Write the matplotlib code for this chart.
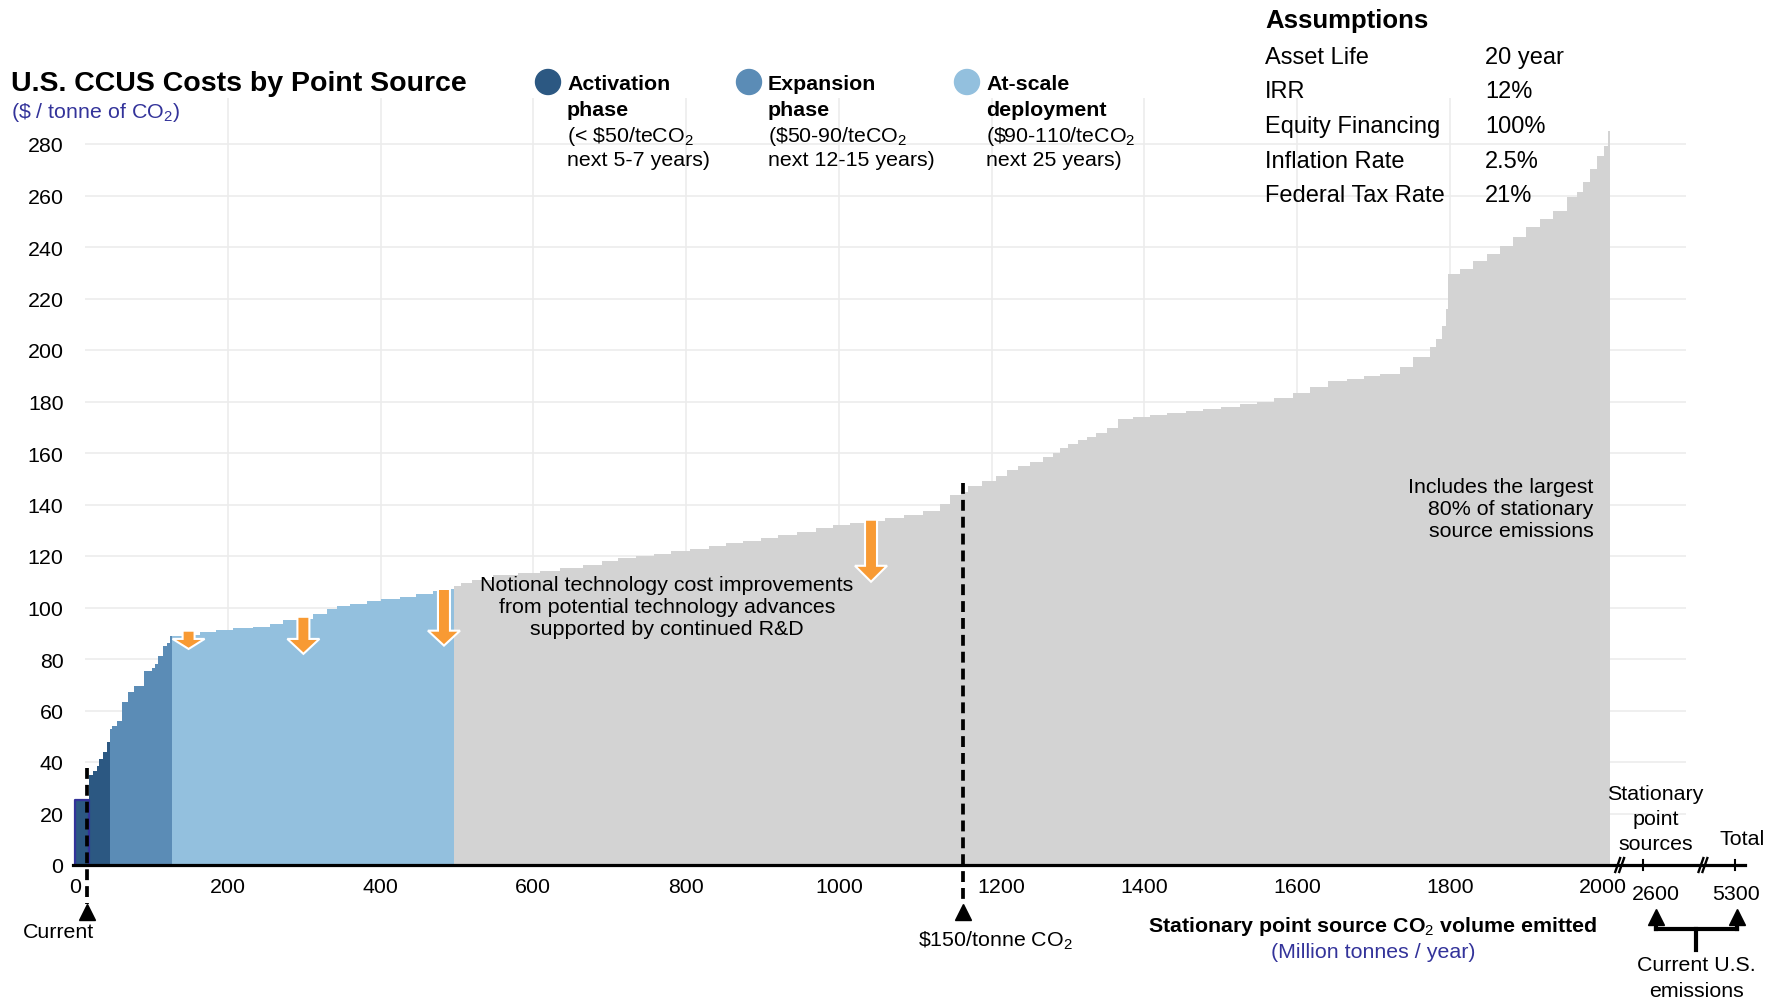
import matplotlib
matplotlib.use("Agg")
import matplotlib.pyplot as plt
from matplotlib.transforms import ScaledTranslation

plt.rcParams['font.family'] = ['Liberation Sans', 'DejaVu Sans']
plt.rcParams['mathtext.fontset'] = 'custom'
plt.rcParams['mathtext.rm'] = 'Liberation Sans'
plt.rcParams['mathtext.it'] = 'Liberation Sans:italic'
plt.rcParams['mathtext.bf'] = 'Liberation Sans:bold'

# Cost curve: cumulative volume where each source starts (Mt/yr) and its cost ($/t)
activation_start = [0, 18.8, 24, 28.4, 31.4, 37, 42.3]
activation_cost = [25.4, 35, 36.5, 38.5, 41, 44, 47.8]

expansion_start = [45.8, 48, 55.4, 62, 69.8, 77.7, 90.3, 100.3, 104.7, 109, 115.6, 120, 124.3]
expansion_cost = [52.8, 54, 56, 63.3, 67.3, 69.6, 75.5, 76.5, 78, 81.3, 85, 86.2, 88.9]

atscale_start = [126.5, 140, 163.6, 185, 207, 233, 255, 272.6, 290, 312, 330, 342.5,
                 360, 381.8, 400, 425, 447, 469, 485]
atscale_cost = [89, 89.3, 90.4, 91.3, 92, 92.6, 93.5, 95.2, 95.5, 97.4, 99.4, 100.7,
                101.5, 102.5, 103.3, 104, 105.2, 106.5, 107.2]

rest_start = [496, 505, 520, 547, 580, 608.6, 635, 664.7, 690, 711.4, 735, 758, 780, 805,
              830, 851.6, 875, 898, 920, 945, 970, 991.8, 1015, 1038.5, 1060, 1085, 1110,
              1132, 1146, 1160, 1169, 1187, 1206, 1220, 1234, 1250, 1267, 1280, 1290, 1300,
              1313, 1325, 1337, 1351, 1365, 1385, 1407, 1430, 1454, 1477, 1500, 1525, 1547,
              1570, 1594, 1617, 1640, 1665, 1687, 1708, 1734, 1752, 1774, 1782, 1789, 1795,
              1797, 1813, 1830, 1848, 1865, 1883, 1900, 1918, 1935, 1953, 1966, 1974, 1983,
              1992, 2001, 2007]
rest_cost = [108.4, 109.7, 110.8, 112.5, 113.5, 114.2, 115.5, 116.6, 118, 119.1, 120, 120.8,
             122, 122.9, 124, 124.9, 126, 127, 128.2, 129.4, 131, 132.2, 133, 133.6, 134.8,
             136, 137.3, 140.2, 143.7, 145, 147.2, 149, 151, 153.5, 155, 156.5, 158.3, 160,
             162.1, 163.5, 164.9, 166.3, 167.7, 169.7, 173.2, 174, 174.6, 175.5, 176.3, 177.2,
             178, 179, 179.9, 181.2, 183.2, 185.5, 187.8, 188.8, 189.9, 190.7, 193.3, 197.2,
             201, 204.3, 209.4, 216, 229.5, 231.5, 234.7, 237.3, 240.5, 243.7, 247.6, 250.9,
             254.1, 259.3, 261.2, 265.1, 270.3, 275.5, 279.3, 285.2]
total_stationary = 2010

# first (existing) block outlined in navy
current_block = (0, 18.8, 25.4)

phase_colors = ['#2c5882', '#5b8cb6', '#93c0de', '#d3d3d3']
phase_names = [("Activation", "phase", r"(< \$50/teCO$_2$", "next 5-7 years)"),
               ("Expansion", "phase", r"(\$50-90/teCO$_2$", "next 12-15 years)"),
               ("At-scale", "deployment", r"(\$90-110/teCO$_2$", "next 25 years)")]

# notional R&D improvement arrows
arrow_x = [148.7, 299, 483, 1042]
arrow_top = [91, 96.4, 107.2, 134.1]
arrow_base = [87.8, 87.8, 91, 116.2]
arrow_tip = [83.9, 82, 85.2, 110]

current_volume = 16
current_cost_top = 37.7
price_volume = 1162
price_cost_top = 148.2

assump_labels = ["Asset Life", "IRR", "Equity Financing", "Inflation Rate", "Federal Tax Rate"]
assump_values = ["20 year", "12%", "100%", "2.5%", "21%"]

x_ticks = [0, 200, 400, 600, 800, 1000, 1200, 1400, 1600, 1800, 2000]
y_ticks = list(range(0, 281, 20))

# broken-axis extension for total emissions
break_pos = [2022, 2131]
ext_ticks = [2053, 2173]
ext_label_x = [2069, 2175]
ext_labels = ["2600", "5300"]

W, H = 1779, 1003
fig = plt.figure(figsize=(W / 100, H / 100), dpi=100)
XMIN, XMAX = -3, 2190
YMIN, YMAX = 0, 298
ax = fig.add_axes([72.7 / W, (H - 866) / H, (1748 - 72.7) / W, 298 * 2.575 / H])
ax.set_xlim(XMIN, XMAX)
ax.set_ylim(YMIN, YMAX)
for s in ax.spines.values():
    s.set_visible(False)

FS = 15.4
navy = '#33339a'
grid_c = '#ececec'

# grid
ax.hlines(y_ticks[1:], 13, 2109, color=grid_c, lw=1.2, zorder=0)
ax.vlines(x_ticks[1:-1], 0, YMAX, color=grid_c, lw=1.2, zorder=0)

# cost curve, filled per phase
phases = [(activation_start, activation_cost, expansion_start[0]),
          (expansion_start, expansion_cost, atscale_start[0]),
          (atscale_start, atscale_cost, rest_start[0]),
          (rest_start, rest_cost, total_stationary)]
for (xs, ys, end), col in zip(phases, phase_colors):
    ax.fill_between(xs + [end], ys + [ys[-1]], step='post', color=col, lw=0, zorder=1)

x0, x1, h = current_block
ax.plot([x0, x0, x1, x1], [0, h, h, 0], color=navy, lw=1.6, zorder=2)

# axis line with breaks
ax.plot([XMIN, 2186], [0, 0], color='black', lw=2.3, zorder=3, clip_on=False)
for bx in break_pos:
    for off in (-2.6, 2.6):
        ax.plot([bx + off - 3.2, bx + off + 3.2], [-2.7, 2.7], color='black', lw=1.7,
                zorder=4, clip_on=False)
for tx in ext_ticks:
    ax.plot([tx, tx], [-1.9, 1.9], color='black', lw=1.5, zorder=4, clip_on=False)

# ticks
ax.set_yticks(y_ticks)
ax.set_yticklabels([str(v) for v in y_ticks], fontsize=FS)
ax.set_xticks(x_ticks)
ax.set_xticklabels([str(v) for v in x_ticks], fontsize=FS)
ax.tick_params(axis='y', length=0, pad=6.6)
ax.tick_params(axis='x', length=0, pad=9)
for lbl in ax.get_xticklabels():
    if lbl.get_text() == "1200":
        lbl.set_transform(lbl.get_transform() + ScaledTranslation(0.1, 0, fig.dpi_scale_trans))
for lx, lab in zip(ext_label_x, ext_labels):
    ax.text(lx, -10.9, lab, ha='center', va='center', fontsize=FS)

# dashed markers
dash = (0, (2.9, 1.6))
for xv, top in [(current_volume, current_cost_top), (price_volume, price_cost_top)]:
    ax.plot([xv, xv], [top, -15], color='black', lw=2.7, linestyle=dash, zorder=4,
            clip_on=False)
    ax.plot([xv], [-18.3], marker='^', color='black', markersize=11, zorder=4,
            clip_on=False)
ax.text(-21, -26, "Current", ha='center', va='center', fontsize=FS)
ax.text(1205, -29, r"\$150/tonne CO$_2$", ha='center', va='center', fontsize=FS)

# R&D arrows
for xa, yt, yb, yp in zip(arrow_x, arrow_top, arrow_base, arrow_tip):
    ax.arrow(xa, yt, 0, yp - yt, width=15.7, head_width=42, head_length=yb - yp,
             length_includes_head=True, fc='#f89a33', ec='white', lw=1.5, zorder=5)

ax.text(775, 100.2, "Notional technology cost improvements\nfrom potential technology advances\n"
        "supported by continued R&D", ha='center', va='center', fontsize=FS,
        linespacing=1.2, zorder=6)
ax.text(1988, 138.3, "Includes the largest\n80% of stationary\nsource emissions", ha='right',
        va='center', multialignment='right', fontsize=FS, linespacing=1.2, zorder=6)

# axis title
ax.text(1699, -23.6, r"Stationary point source CO$_2$ volume emitted", ha='center',
        va='center', fontsize=FS, fontweight='bold')
ax.text(1699, -33.5, "(Million tonnes / year)", ha='center', va='center', fontsize=FS,
        color=navy)

# total emissions bracket
for i, word in enumerate(["Stationary", "point", "sources"]):
    ax.text(2069, 27.8 - i * 9.8, word, ha='center', va='center', fontsize=FS)
ax.text(2182, 10.2, "Total", ha='center', va='center', fontsize=FS)
yb_bar = -24.9
for lx in ext_label_x:
    ax.plot([lx, lx], [yb_bar, -21], color='black', lw=3, clip_on=False, zorder=4)
    ax.plot([lx], [-20.3], marker='^', color='black', markersize=11, clip_on=False,
            zorder=4)
mid = sum(ext_label_x) / 2
ax.plot(ext_label_x, [yb_bar, yb_bar], color='black', lw=3, clip_on=False,
        solid_capstyle='projecting', zorder=4)
ax.plot([mid, mid], [yb_bar, -33.0], color='black', lw=3, clip_on=False, zorder=4)
ax.text(mid, -38.6, "Current U.S.", ha='center', va='center', fontsize=FS)
ax.text(mid, -48.8, "emissions", ha='center', va='center', fontsize=FS)


def fpos(px, py):
    return px / W, 1 - py / H


# title block
fig.text(*fpos(11, 84), "U.S. CCUS Costs by Point Source", fontsize=20.5, fontweight='bold',
         ha='left', va='center')
fig.text(*fpos(11, 113), r"(\$ / tonne of CO$_2$)", fontsize=FS, color=navy,
         ha='left', va='center')

# phase legend
legend_x = [548, 749, 967]
line_y = [84, 110, 136, 161]
for cx, names, col in zip(legend_x, phase_names, phase_colors[:3]):
    fig.patches.append(matplotlib.patches.Ellipse(fpos(cx, 83), 25 / W, 25 / H, color=col,
                                                  transform=fig.transFigure, figure=fig))
    for i, (txt, ly) in enumerate(zip(names, line_y)):
        fig.text(*fpos(cx + 19, ly), txt, fontsize=FS, ha='left', va='center',
                 fontweight='bold' if i < 2 else 'normal')

# assumptions table
fig.text(*fpos(1265, 21), "Assumptions", fontsize=18.5, fontweight='bold', ha='left',
         va='center')
for i, (lab, val) in enumerate(zip(assump_labels, assump_values)):
    yy = 58 + i * 34.5
    fig.text(*fpos(1265, yy), lab, fontsize=17, ha='left', va='center')
    fig.text(*fpos(1485, yy), val, fontsize=17, ha='left', va='center')

fig.savefig("out.png", dpi=100)
